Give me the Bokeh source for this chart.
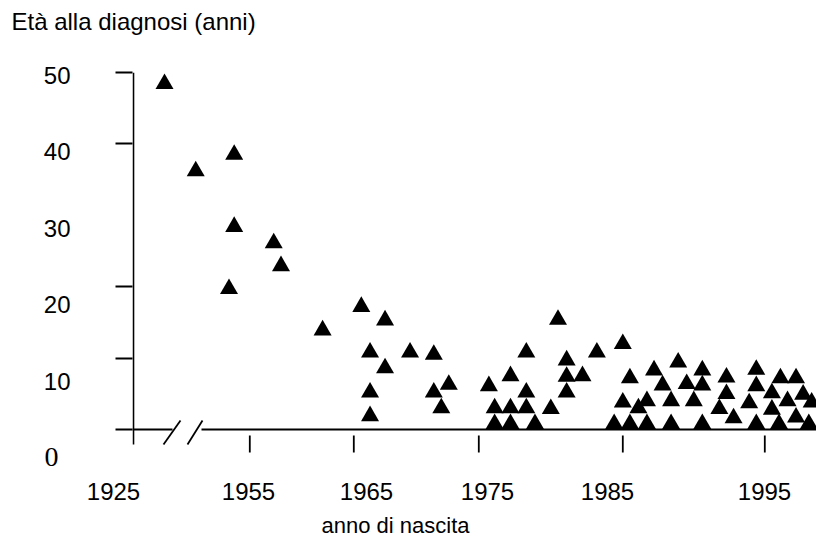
import numpy as np
from bokeh.plotting import figure
from bokeh.models import Range1d, LinearAxis, FixedTicker, ColumnDataSource, Title
from bokeh.embed import file_html
from bokeh.resources import INLINE

# ---------------- data ----------------
birth_year = [1946.8, 1949.8, 1953.5, 1953.5, 1953.0, 1957.3, 1958.0, 1962.0,
              1965.6, 1967.5, 1966.3, 1969.5, 1971.4, 1967.5, 1966.3, 1966.3,
              1971.4, 1972.6, 1972.0,
              1978.3, 1977.2, 1975.7, 1978.3, 1976.1, 1977.2, 1978.3, 1976.1,
              1977.2, 1978.9, 1980.0, 1980.5, 1981.1, 1981.1, 1981.1, 1982.2,
              1983.2,
              1985.0, 1985.5, 1985.0, 1984.4, 1985.5, 1986.1, 1986.7, 1986.7,
              1987.2, 1987.8, 1988.4, 1988.4, 1988.9, 1989.5, 1990.0, 1990.6,
              1990.6, 1990.6, 1992.3, 1992.3, 1991.8, 1992.8, 1994.4, 1994.4,
              1993.9, 1994.4, 1995.5, 1996.1, 1996.6, 1995.5, 1996.0, 1997.2,
              1997.7, 1997.2, 1998.3, 1998.1]
age_at_diagnosis = [48.4, 36.2, 38.5, 28.4, 19.7, 26.1, 22.9, 13.9,
                    17.2, 15.3, 10.8, 10.8, 10.5, 8.6, 5.2, 1.9,
                    5.2, 6.3, 3.0,
                    10.8, 7.5, 6.1, 5.2, 3.0, 3.0, 3.0, 0.8,
                    0.8, 0.8, 2.9, 15.4, 9.7, 7.4, 5.2, 7.5,
                    10.8,
                    12.0, 7.2, 3.8, 0.8, 0.8, 3.0, 4.0, 0.8,
                    8.3, 6.2, 4.0, 0.8, 9.4, 6.4, 4.0, 8.3,
                    6.2, 0.8, 7.3, 5.0, 2.9, 1.6, 8.4, 6.1,
                    3.7, 0.8, 5.1, 7.2, 4.0, 2.8, 0.8, 7.2,
                    4.9, 1.7, 3.8, 0.8]

x_tick_years = [1955, 1965, 1975, 1985, 1995]
x_tick_labels = ["1955", "1965", "1975", "1985", "1995"]
x_origin_label = "1925"
y_tick_marks = [0, 10, 20, 40, 50]          # the source omits the tick at 30
y_tick_labels = [10, 20, 30, 40, 50]

TITLE = "Età alla diagnosi (anni)"
XLABEL = "anno di nascita"

# ---------------- broken, hand-drawn x axis ----------------
# piecewise mapping year -> axis position (the axis is cut after 1925)
AXIS_YEARS = [1925, 1945, 1955, 1965, 1975, 1985, 1995, 2005]
AXIS_POS = [132, 145.3, 249.3, 353.3, 478.3, 622.3, 764.3, 906.3]


def xpos(years):
    return np.interp(years, AXIS_YEARS, AXIS_POS)


X_LABEL_POS = [248, 366, 487, 607, 764]      # label positions (shifted in the source)
ORIGIN_LABEL_POS = 133

SANS = "Liberation Sans"
FS = "24px"
LW = 1.8

src = ColumnDataSource(dict(xp=xpos(birth_year), age=age_at_diagnosis))

p = figure(width=816, height=543, output_backend="svg", toolbar_location=None,
           x_range=Range1d(132, 816), y_range=Range1d(-5.742, 50),
           x_axis_location=None, y_axis_location=None,
           min_border_left=132, min_border_right=0, min_border_top=72,
           min_border_bottom=73)
p.outline_line_color = None
p.xgrid.visible = False
p.ygrid.visible = False
p.background_fill_color = "white"
p.border_fill_color = "white"
p.extra_y_ranges = {"lab": Range1d(-1.702, 50.393)}

# empty spacer above the frame, so that the title sits near the top edge
spacer = LinearAxis(ticker=FixedTicker(ticks=[400]), axis_line_color=None,
                    major_tick_line_color=None, minor_tick_line_color=None,
                    major_tick_out=38, major_tick_in=0,
                    major_label_overrides={400: ""}, major_label_standoff=0,
                    major_label_text_font_size="1px")
p.add_layout(spacer, "above")
p.add_layout(Title(text=TITLE, align="left", offset=-121, standoff=0,
                   vertical_align="bottom",
                   text_font=SANS, text_font_size=FS, text_font_style="normal",
                   text_color="black"), "above")

# y axis tick marks (the axis line itself is drawn below, it stops under the x line)
yax = LinearAxis(ticker=FixedTicker(ticks=y_tick_marks),
                 axis_line_color=None,
                 major_tick_out=17, major_tick_in=0,
                 minor_tick_out=0, minor_tick_in=0,
                 major_tick_line_width=LW,
                 major_label_overrides={t: "" for t in y_tick_marks},
                 major_label_standoff=0, major_label_text_font_size="1px")
p.add_layout(yax, "left")

# y axis labels (they drift slightly from the ticks in the source)
ylab = LinearAxis(y_range_name="lab", ticker=FixedTicker(ticks=y_tick_labels),
                  axis_line_color=None, major_tick_line_color=None,
                  minor_tick_line_color=None, major_tick_out=0, major_tick_in=0,
                  major_label_standoff=45,
                  major_label_text_font=SANS, major_label_text_font_size=FS,
                  major_label_text_color="black")
p.add_layout(ylab, "left")

# the serif "0" at the origin
yzero = LinearAxis(y_range_name="lab", ticker=FixedTicker(ticks=[0]),
                   axis_line_color=None, major_tick_line_color=None,
                   minor_tick_line_color=None, major_tick_out=0, major_tick_in=0,
                   major_label_standoff=-18,
                   major_label_text_font="Liberation Serif",
                   major_label_text_font_size="28px",
                   major_label_text_color="black")
p.add_layout(yzero, "left")

# x axis labels
xl_ticks = [ORIGIN_LABEL_POS] + X_LABEL_POS
xl_over = {ORIGIN_LABEL_POS: x_origin_label + "\u00a0" * 6}
xl_over.update({pos: lab for pos, lab in zip(X_LABEL_POS, x_tick_labels)})
xlab = LinearAxis(ticker=FixedTicker(ticks=xl_ticks),
                  axis_line_color=None, major_tick_line_color=None,
                  minor_tick_line_color=None, major_tick_out=0, major_tick_in=0,
                  major_label_overrides=xl_over,
                  major_label_standoff=7,
                  major_label_text_font=SANS, major_label_text_font_size=FS,
                  major_label_text_color="black")
p.add_layout(xlab, "below")

p.add_layout(Title(text=XLABEL, align="left", offset=189, standoff=7,
                   text_font=SANS, text_font_size="22px", text_font_style="normal",
                   text_color="black"), "below")

# hand-drawn axis lines: y line, x line at age 0 with a break, detached x ticks
p.segment(x0=[132.9], y0=[50], x1=[132.9], y1=[-2.101],
          line_color="black", line_width=LW)
p.segment(x0=[132, 201], y0=[0, 0], x1=[172, 816], y1=[0, 0],
          line_color="black", line_width=LW)
p.segment(x0=[163, 187], y0=[-2.101, -2.101], x1=[180, 202], y1=[1.261, 1.261],
          line_color="black", line_width=LW)
xt = xpos(x_tick_years)
p.segment(x0=xt, y0=[-0.840] * len(xt), x1=xt, y1=[-3.221] * len(xt),
          line_color="black", line_width=LW)

# data
p.scatter(x="xp", y="age", source=src, marker="triangle", size=18,
          fill_color="black", line_color=None)

open("out.html", "w").write(file_html(p, INLINE))
